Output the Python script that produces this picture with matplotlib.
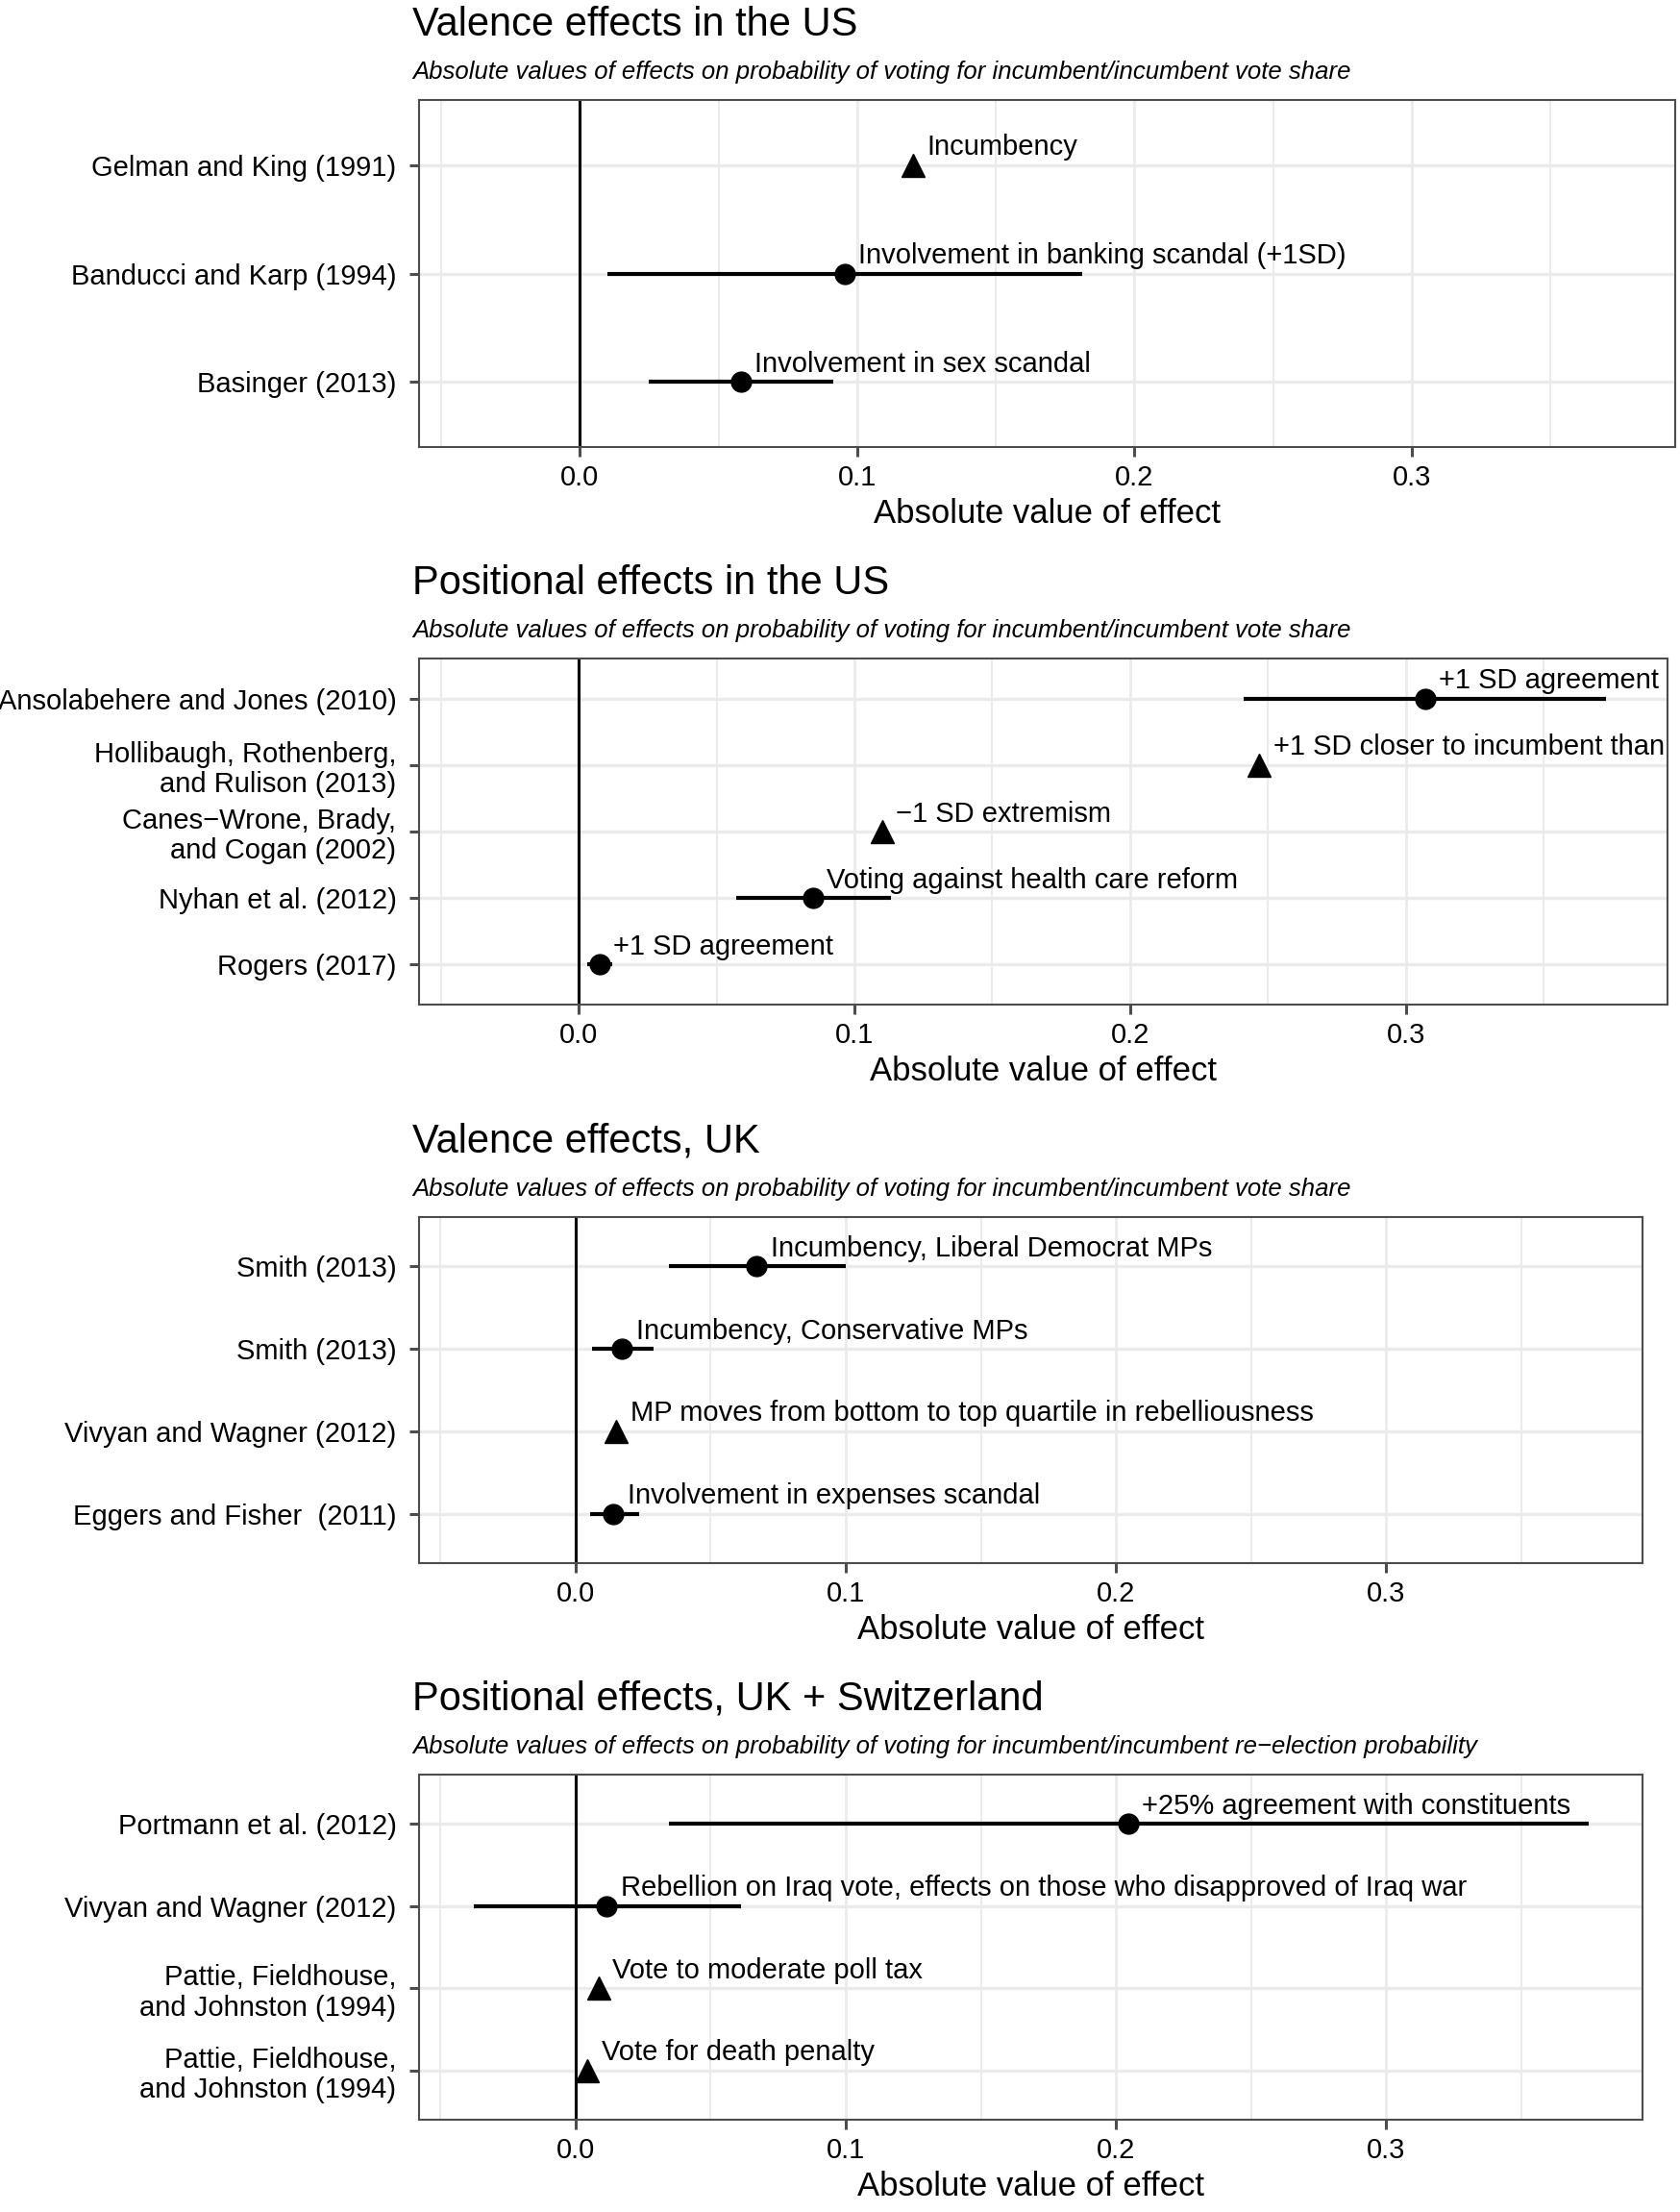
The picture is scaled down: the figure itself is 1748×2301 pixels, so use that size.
import matplotlib
matplotlib.use("Agg")
import matplotlib.pyplot as plt
import numpy as np

plt.rcParams['font.family'] = ['Liberation Sans', 'DejaVu Sans']

W, H = 1749, 2301
nan = np.nan
MINUS = "\u2212"

# panel 1: valence effects, US
p1_title = "Valence effects in the US"
p1_sub = "Absolute values of effects on probability of voting for incumbent/incumbent vote share"
p1_labels = ["Gelman and King (1991)", "Banducci and Karp (1994)", "Basinger (2013)"]
p1_est = [0.120, 0.0954, 0.058]
p1_lo = [nan, 0.010, 0.025]
p1_hi = [nan, 0.181, 0.0915]
p1_shape = ["^", "o", "o"]
p1_notes = ["Incumbency", "Involvement in banking scandal (+1SD)", "Involvement in sex scandal"]

# panel 2: positional effects, US
p2_title = "Positional effects in the US"
p2_sub = "Absolute values of effects on probability of voting for incumbent/incumbent vote share"
p2_labels = ["Ansolabehere and Jones (2010)", "Hollibaugh, Rothenberg,\nand Rulison (2013)",
             "Canes" + MINUS + "Wrone, Brady,\nand Cogan (2002)", "Nyhan et al. (2012)", "Rogers (2017)"]
p2_est = [0.307, 0.2468, 0.110, 0.0849, 0.0075]
p2_lo = [0.2413, nan, nan, 0.0572, 0.0032]
p2_hi = [0.3727, nan, nan, 0.1131, 0.0122]
p2_shape = ["o", "^", "^", "o", "o"]
p2_notes = ["+1 SD agreement", "+1 SD closer to incumbent than", MINUS + "1 SD extremism",
            "Voting against health care reform", "+1 SD agreement"]

# panel 3: valence effects, UK
p3_title = "Valence effects, UK"
p3_sub = "Absolute values of effects on probability of voting for incumbent/incumbent vote share"
p3_labels = ["Smith (2013)", "Smith (2013)", "Vivyan and Wagner (2012)", "Eggers and Fisher  (2011)"]
p3_est = [0.0669, 0.0171, 0.0151, 0.0139]
p3_lo = [0.0346, 0.006, nan, 0.0052]
p3_hi = [0.0999, 0.0287, nan, 0.0235]
p3_shape = ["o", "o", "^", "o"]
p3_notes = ["Incumbency, Liberal Democrat MPs", "Incumbency, Conservative MPs",
            "MP moves from bottom to top quartile in rebelliousness", "Involvement in expenses scandal"]

# panel 4: positional effects, UK + Switzerland
p4_title = "Positional effects, UK + Switzerland"
p4_sub = "Absolute values of effects on probability of voting for incumbent/incumbent re" + MINUS + "election probability"
p4_labels = ["Portmann et al. (2012)", "Vivyan and Wagner (2012)",
             "Pattie, Fieldhouse,\nand Johnston (1994)", "Pattie, Fieldhouse,\nand Johnston (1994)"]
p4_est = [0.2045, 0.0115, 0.0084, 0.0044]
p4_lo = [0.0346, -0.0378, nan, nan]
p4_hi = [0.375, 0.0613, nan, nan]
p4_shape = ["o", "o", "^", "^"]
p4_notes = ["+25% agreement with constituents",
            "Rebellion on Iraq vote, effects on those who disapproved of Iraq war",
            "Vote to moderate poll tax", "Vote for death penalty"]

# axes boxes in pixels: left, right, top, bottom
boxes = [(436, 1743, 104, 465), (436, 1735, 685, 1045),
         (436, 1709, 1266, 1626), (436, 1709, 1846, 2205)]

panels = [
    (p1_title, p1_sub, p1_labels, p1_est, p1_lo, p1_hi, p1_shape, p1_notes),
    (p2_title, p2_sub, p2_labels, p2_est, p2_lo, p2_hi, p2_shape, p2_notes),
    (p3_title, p3_sub, p3_labels, p3_est, p3_lo, p3_hi, p3_shape, p3_notes),
    (p4_title, p4_sub, p4_labels, p4_est, p4_lo, p4_hi, p4_shape, p4_notes),
]

fig = plt.figure(figsize=(W / 100, H / 100), dpi=100)
grid_c = "#ebebeb"
edge_c = "#4d4d4d"

for (title, sub, labels, est, lo, hi, shape, notes), (l, r, t, b) in zip(panels, boxes):
    ax = fig.add_axes([l / W, 1 - b / H, (r - l) / W, (b - t) / H])
    n = len(labels)
    ys = np.arange(n, 0, -1)
    ax.set_xlim(-0.058, 0.395)
    ax.set_ylim(0.4, n + 0.6)

    for xv in np.arange(-0.05, 0.4, 0.1):
        ax.axvline(xv, color=grid_c, lw=1.4, zorder=0)
    for xv in [0.0, 0.1, 0.2, 0.3]:
        ax.axvline(xv, color=grid_c, lw=2.0, zorder=0)
    for yv in ys:
        ax.axhline(yv, color=grid_c, lw=2.4, zorder=0)

    ax.axvline(0, color="black", lw=2.2, zorder=1)

    for yv, e, a, c, m, note in zip(ys, est, lo, hi, shape, notes):
        if not np.isnan(a):
            ax.plot([a, c], [yv, yv], color="black", lw=3.0, solid_capstyle="butt", zorder=2)
        if m == "o":
            ax.plot(e, yv, "o", color="black", ms=15, zorder=3)
        else:
            ax.plot(e, yv, "^", color="black", ms=17, zorder=3)
        ax.annotate(note, (e, yv), xytext=(10.5, 7.5), textcoords="offset points",
                    ha="left", va="baseline", fontsize=21, zorder=4)

    ax.set_xticks([0.0, 0.1, 0.2, 0.3])
    ax.set_xticklabels(["0.0", "0.1", "0.2", "0.3"])
    ax.set_yticks(ys)
    ax.set_yticklabels(labels, ha="right", linespacing=1.15)
    ax.tick_params(axis="both", colors=edge_c, labelcolor="black", labelsize=21,
                   length=7, width=2.2)
    ax.tick_params(axis="x", pad=6)
    ax.tick_params(axis="y", pad=10)
    for s in ax.spines.values():
        s.set_color(edge_c)
        s.set_linewidth(1.5)
    ax.set_xlabel("Absolute value of effect", fontsize=25, labelpad=5)

    fig.text(429 / W, 1 - (t - 67) / H, title, fontsize=30, va="baseline", ha="left")
    fig.text(429 / W, 1 - (t - 22) / H, sub, fontsize=18.5, style="italic",
             va="baseline", ha="left")

fig.savefig("out.png", dpi=100)
